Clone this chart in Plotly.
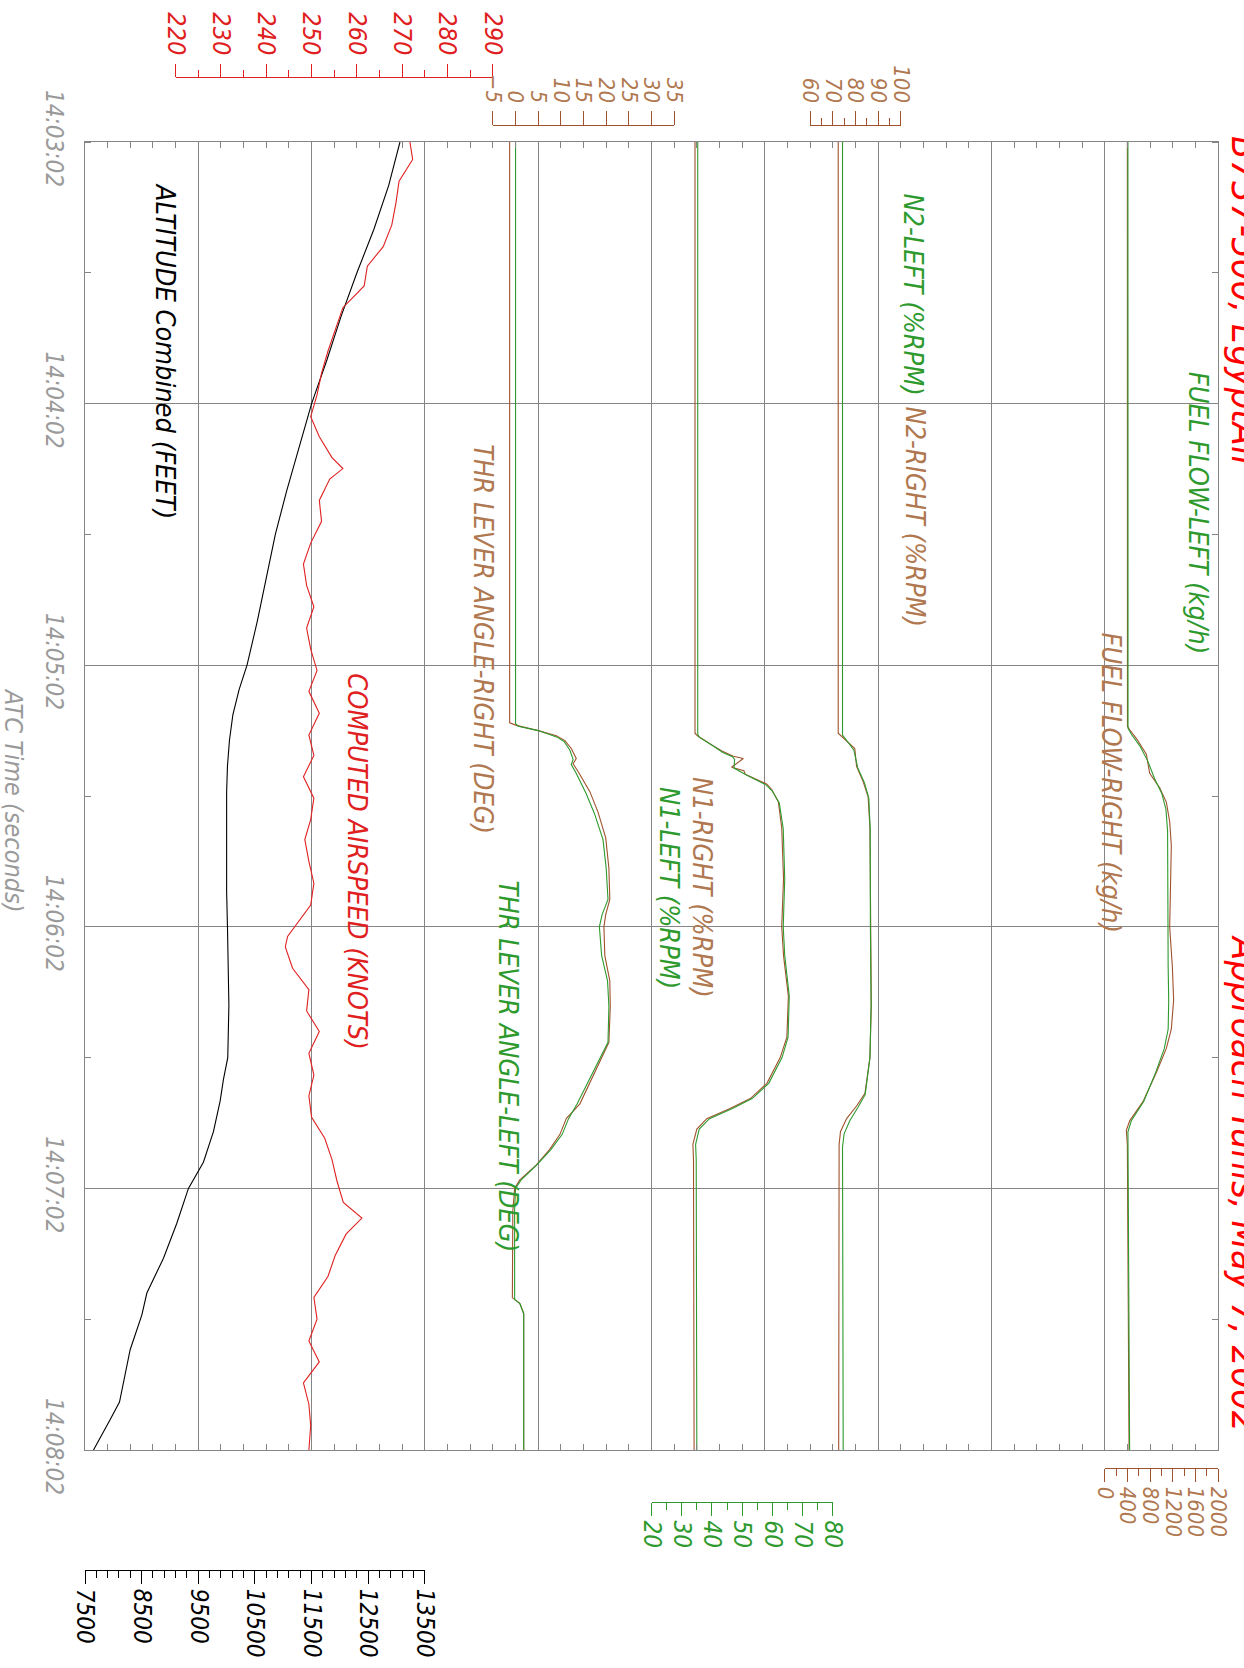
import plotly.graph_objects as go

# ---------------- data (time in seconds after 14:03:02) ----------------
time_ticks = [0, 60, 120, 180, 240, 300]
time_labels = ["14:03:02", "14:04:02", "14:05:02", "14:06:02", "14:07:02", "14:08:02"]

alt_t = [0, 10, 20, 30, 40, 50, 60, 70, 80, 90, 100, 110, 120, 125.6, 131.4, 137.2, 143.1, 149,
         160, 172, 180, 198, 210, 215, 220, 227, 234, 240, 248, 256, 264, 269, 277, 289, 293, 300]
alt_ft = [13060, 12860, 12600, 12300, 12020, 11770, 11500, 11280, 11060, 10860, 10700, 10540, 10360,
          10220, 10110, 10050, 10015, 10000, 10000, 10000, 10015, 10040, 10020, 9944, 9885, 9767,
          9590, 9326, 9121, 8885, 8592, 8504, 8297, 8109, 7945, 7650]

ias_t = [0, 4, 9, 14, 19, 24, 28.5, 33, 38, 43, 48, 53, 58, 63, 67.6, 72.4, 74.9, 77.3, 82.2, 87,
         92, 96.8, 101.7, 106.6, 111.5, 116.3, 121.2, 126, 131, 136, 140.7, 145.6, 150.5, 155.4,
         160, 165, 170, 175, 179.8, 182.2, 184.6, 189.5, 194.4, 199.3, 204, 209, 214, 218.8, 223.7,
         228.5, 233.4, 238.3, 243.2, 246.8, 250.5, 255.4, 260.2, 265, 270, 275, 279.8, 284.6,
         289.5, 294.4, 300]
ias_kt = [271.7, 272.3, 269.3, 268.6, 267.7, 265.8, 262.3, 261.6, 256.9, 255.2, 253.6, 252.2, 251.2,
          249.8, 251.7, 254.5, 256.9, 254.0, 251.7, 252.2, 249.8, 248.2, 248.9, 250.5, 248.9, 249.8,
          251.2, 249.4, 251.7, 249.4, 250.5, 248.2, 250.5, 249.8, 248.5, 249.4, 250.5, 249.8, 246.5,
          244.7, 244.2, 245.8, 249.4, 248.9, 251.7, 249.4, 250.5, 249.4, 250.0, 252.9, 254.5, 255.6,
          257.0, 261.1, 257.6, 255.2, 253.6, 250.5, 251.2, 249.4, 251.7, 248.2, 249.4, 249.8, 249.4]

thr_r_t = [0, 133.2, 133.8, 135, 136.2, 137.3, 139.1, 141.4, 142.6, 144.4, 149, 153.7, 159.6, 166.6,
           173.7, 177.2, 180, 186.6, 192.4, 198.3, 206.5, 210, 215.9, 220.6, 224, 227.6, 231.1,
           234.6, 238.1, 240, 245.2, 256.9, 265.1, 266.3, 268.6, 300]
thr_r = [-1.3, -1.3, 0.2, 5.0, 9.0, 10.9, 12.3, 13.4, 12.7, 13.8, 16.4, 18.2, 19.9, 20.6, 20.8, 19.9,
         19.5, 19.7, 20.8, 20.9, 20.6, 19.0, 16.4, 14.2, 11.2, 9.8, 7.5, 4.6, 0.9, -0.2, -0.6, -0.7,
         -0.7, 0.9, 1.8, 1.8]
thr_l_t = [0, 133.4, 134, 135, 136.5, 137.5, 139.5, 141.6, 142.8, 144.6, 149.5, 154, 160, 166.6,
           173.7, 177.2, 180, 186.6, 192.4, 198.3, 206.5, 210, 215.9, 220.6, 224, 227.6, 231.1,
           234.6, 238.1, 240, 245, 265.5, 266.5, 268.8, 300]
thr_l = [0.0, 0.0, 0.6, 5.0, 9.2, 10.7, 12.0, 12.7, 12.3, 13.3, 15.6, 17.4, 19.3, 20.0, 20.4, 19.1,
         18.5, 19.0, 20.3, 20.6, 20.4, 18.7, 16.0, 13.6, 11.7, 10.3, 7.8, 4.7, 1.2, 0.0, -0.2, -0.2,
         1.0, 1.8, 1.8]

n1_r_t = [0, 135.6, 136.2, 137, 138.5, 139.7, 140.9, 141.4, 143.4, 144.2, 145, 147.3, 148.5, 151.4,
          157.3, 169, 180, 186.6, 195.9, 205.3, 210, 215.9, 219.4, 221.7, 224, 226.4, 229.9, 233.4, 300]
n1_r = [34.4, 34.4, 35.2, 37.2, 40.5, 43.3, 47.1, 50.4, 46.5, 50.6, 51.0, 58.2, 59.8, 62.0, 63.1,
        63.7, 63.1, 63.7, 65.3, 64.8, 62.6, 58.2, 52.7, 46.0, 38.3, 35.0, 33.7, 33.9, 34.1]
n1_l_t = [0, 135.8, 136.5, 137.3, 138.7, 140, 141, 141.6, 143.6, 145.2, 147.5, 148.8, 151.6, 157.5,
          169, 180, 186.6, 195.9, 205.3, 210, 215.9, 219.4, 221.7, 224, 226.4, 229.9, 233.4, 300]
n1_l = [35.3, 35.3, 35.8, 37.8, 40.8, 43.6, 46.8, 47.5, 47.3, 51.4, 58.0, 59.9, 62.3, 63.6, 64.1,
        63.6, 64.1, 65.6, 65.2, 63.2, 58.8, 53.3, 46.8, 39.2, 35.8, 34.6, 34.8, 35.0]

n2_r_t = [0, 135.6, 139.1, 143.2, 146.7, 150.2, 157.3, 180, 198, 210, 218.2, 221.1, 224, 227, 229.9, 300]
n2_r = [72.4, 72.4, 79.7, 80.5, 83.4, 85.6, 86.4, 86.7, 87.0, 86.4, 84.2, 80.5, 76.1, 73.4, 72.8, 72.6]
n2_l_t = [0, 136, 137.5, 139.5, 143.5, 147, 150.5, 157.5, 180, 198, 210, 218.5, 221.5, 224.5, 227.5,
          230.5, 300]
n2_l = [74.3, 74.3, 76.5, 79.3, 81.0, 84.0, 85.9, 86.5, 86.6, 86.9, 86.4, 84.3, 81.0, 77.5, 75.0,
        74.3, 74.6]

ff_r_t = [0, 134, 134.8, 137, 140.4, 144.8, 148.1, 151.4, 155.9, 161.4, 172.5, 180, 189.1, 196.8,
          203.5, 207.9, 213.4, 220.1, 224.5, 226.7, 230, 300]
ff_r = [400, 402, 441, 570, 735, 794, 970, 1088, 1147, 1176, 1159, 1147, 1194, 1217, 1176, 1088, 912,
        676, 441, 382, 400, 430]
ff_l_t = [0, 134.5, 136, 138.5, 142, 146, 149.5, 153, 158, 172, 180, 189, 197, 203.5, 208, 213.4,
          220, 224.5, 227, 300]
ff_l = [410, 412, 480, 620, 760, 880, 1010, 1080, 1110, 1110, 1110, 1120, 1130, 1120, 1050, 900, 690,
        470, 410, 440]

# scale bars: (value min, value max, major step, minor step)
alt_scale = [7500, 13500, 1000, 200]
ias_scale = [220, 290, 10, 5]
thr_scale = [-5, 35, 5, 5]
n2_scale = [60, 100, 10, 5]
n1_scale = [20, 80, 10, 5]
ff_scale = [0, 2000, 400, 200]

# ---------------- styling ----------------
RED = "#E02020"
BROWN = "#A0522D"
BROWN_T = "#B07850"
GREEN = "#2E9A2E"
GRID = "#858585"
FONT = "DejaVu Sans Condensed, DejaVu Sans, sans-serif"

W, H = 1244, 1668
ML, MR, MT, MB = 85, 26, 78, 98
PW = W - ML - MR
PH = H - MT - MB
PLOT_TOP, PLOT_BOT = 142, 1450
NDIV = 10


def py(yfull):
    return (H - MB - yfull) / PH


def px(xfull):
    return (xfull - ML) / PW


fig = go.Figure()

layout = dict(
    width=W, height=H, paper_bgcolor="white", plot_bgcolor="rgba(0,0,0,0)",
    margin=dict(l=ML, r=MR, t=MT, b=MB, autoexpand=False), showlegend=False,
    font=dict(family=FONT, style="italic"),
)

layout["xaxis"] = dict(
    range=[0, NDIV], domain=[0, 1], anchor="y", showgrid=True, gridcolor=GRID, gridwidth=1,
    dtick=1, tick0=0, showticklabels=False, ticks="", zeroline=False, automargin=False,
    showline=True, linecolor=GRID, linewidth=1, mirror="allticks",
    minor=dict(dtick=0.2, tick0=0, ticks="inside", ticklen=6, tickcolor=GRID, showgrid=False),
)
layout["yaxis"] = dict(
    range=[300, 0], domain=[py(PLOT_BOT), py(PLOT_TOP)], anchor="x", automargin=False,
    tickmode="array", tickvals=time_ticks, ticktext=time_labels, tickangle=90,
    ticklabelstandoff=9,
    tickfont=dict(size=24, color="#9A9A9A", family=FONT, style="italic"),
    showgrid=True, gridcolor=GRID, zeroline=False, ticks="",
    showline=True, linecolor=GRID, mirror="allticks",
    minor=dict(dtick=30, tick0=0, ticks="inside", ticklen=6, tickcolor=GRID, showgrid=False),
)

axis_id = [1]


def new_id():
    axis_id[0] += 1
    return axis_id[0]


def add_series(scale, div0, div1, series, side, ypos, color, tickcolor, ticklen=13, minorlen=7,
               fsize=24):
    vmin, vmax, major, minor = scale
    per_div = (vmax - vmin) / (div1 - div0)
    full_range = [vmin - div0 * per_div, vmin + (NDIV - div0) * per_div]
    # overlay axis carrying the data
    k = new_id()
    layout[f"xaxis{k}"] = dict(overlaying="x", anchor="y", range=full_range, visible=False)
    for tt, vv, c in series:
        fig.add_trace(go.Scatter(x=vv, y=tt, mode="lines", line=dict(color=c, width=1.1),
                                 xaxis=f"x{k}", yaxis="y", hoverinfo="skip"))
    # scale bar axis, on its own tiny subplot outside the plot
    k2 = new_id()
    ydom = [ypos - 0.001, ypos] if side == "top" else [ypos, ypos + 0.001]
    layout[f"yaxis{k2}"] = dict(domain=ydom, anchor=f"x{k2}", range=[0, 1], visible=False)
    mn = dict(dtick=minor, tick0=vmin, ticks="outside", ticklen=minorlen, tickcolor=color) \
        if minor != major else dict(ticks="")
    layout[f"xaxis{k2}"] = dict(
        anchor=f"y{k2}", side=side, domain=[div0 / NDIV, div1 / NDIV],
        range=[vmin, vmax], dtick=major, tick0=vmin, ticks="outside", ticklen=ticklen,
        tickcolor=color, tickwidth=1, showline=True, linecolor=color, linewidth=1,
        showgrid=False, zeroline=False, tickangle=90, automargin=False, tickformat="d",
        tickfont=dict(size=fsize, color=tickcolor, family=FONT, style="italic"),
        minor=mn,
    )
    fig.add_trace(go.Scatter(x=[vmin, vmax], y=[0.5, 0.5], mode="markers",
                             marker=dict(opacity=0, size=1), xaxis=f"x{k2}", yaxis=f"y{k2}",
                             hoverinfo="skip"))


add_series(alt_scale, 0.0, 3.0, [(alt_t, alt_ft, "#000000")], "bottom", 0.0, "#000000", "#000000")
add_series(ias_scale, 0.8, 3.6, [(ias_t, ias_kt, RED)], "top", 1.0, RED, RED, fsize=25)
add_series(thr_scale, 3.6, 5.2, [(thr_r_t, thr_r, BROWN), (thr_l_t, thr_l, GREEN)], "top",
           py(125.7), BROWN, BROWN_T, ticklen=14, fsize=22)
add_series(n1_scale, 5.0, 6.6, [(n1_r_t, n1_r, BROWN), (n1_l_t, n1_l, GREEN)], "bottom",
           py(1501.7), GREEN, GREEN)
add_series(n2_scale, 6.4, 7.2, [(n2_r_t, n2_r, BROWN), (n2_l_t, n2_l, GREEN)], "top",
           py(125.7), BROWN, BROWN_T, ticklen=14, fsize=22)
add_series(ff_scale, 9.0, 10.0, [(ff_r_t, ff_r, BROWN), (ff_l_t, ff_l, GREEN)], "bottom",
           py(1468.3), BROWN, BROWN_T, fsize=22)

fig.update_layout(**layout)

# ---------------- labels ----------------
labels = [
    ("ALTITUDE Combined (FEET)", 0.71, 48, "#000000"),
    ("COMPUTED AIRSPEED (KNOTS)", 2.41, 165, RED),
    ("THR LEVER ANGLE-RIGHT (DEG)", 3.52, 114, BROWN_T),
    ("THR LEVER ANGLE-LEFT (DEG)", 3.74, 212, GREEN),
    ("N1-RIGHT (%RPM)", 5.45, 171, BROWN_T),
    ("N1-LEFT (%RPM)", 5.16, 171, GREEN),
    ("N2-LEFT (%RPM)", 7.31, 35, GREEN),
    ("N2-RIGHT (%RPM)", 7.33, 86, BROWN_T),
    ("FUEL FLOW-LEFT (kg/h)", 9.83, 85, GREEN),
    ("FUEL FLOW-RIGHT (kg/h)", 9.06, 147, BROWN_T),
]
for txt, xd, tt, col in labels:
    fig.add_annotation(text=txt, x=xd, y=tt, xref="x", yref="y", showarrow=False, textangle=90,
                       xanchor="center", yanchor="middle",
                       font=dict(size=27, color=col, family=FONT, style="italic"))

fig.add_annotation(text="ATC Time (seconds)", x=px(14), y=py(800), xref="paper",
                   yref="paper", showarrow=False, textangle=90, xanchor="center",
                   yanchor="middle",
                   font=dict(size=25, color="#9A9A9A", family=FONT, style="italic"))
fig.add_annotation(text="B737-500, EgyptAir", x=px(1245), y=py(303), xref="paper",
                   yref="paper", showarrow=False, textangle=90, xanchor="center",
                   yanchor="middle",
                   font=dict(size=38, color="#FF0000", family=FONT, style="italic"))
fig.add_annotation(text="Approach Tunis, May 7, 2002", x=px(1245), y=py(1183),
                   xref="paper", yref="paper", showarrow=False, textangle=90, xanchor="center",
                   yanchor="middle",
                   font=dict(size=38, color="#FF0000", family=FONT, style="italic"))

fig.write_html("out.html", post_script="document.body.style.margin='0px';",
               config={"displayModeBar": False})
